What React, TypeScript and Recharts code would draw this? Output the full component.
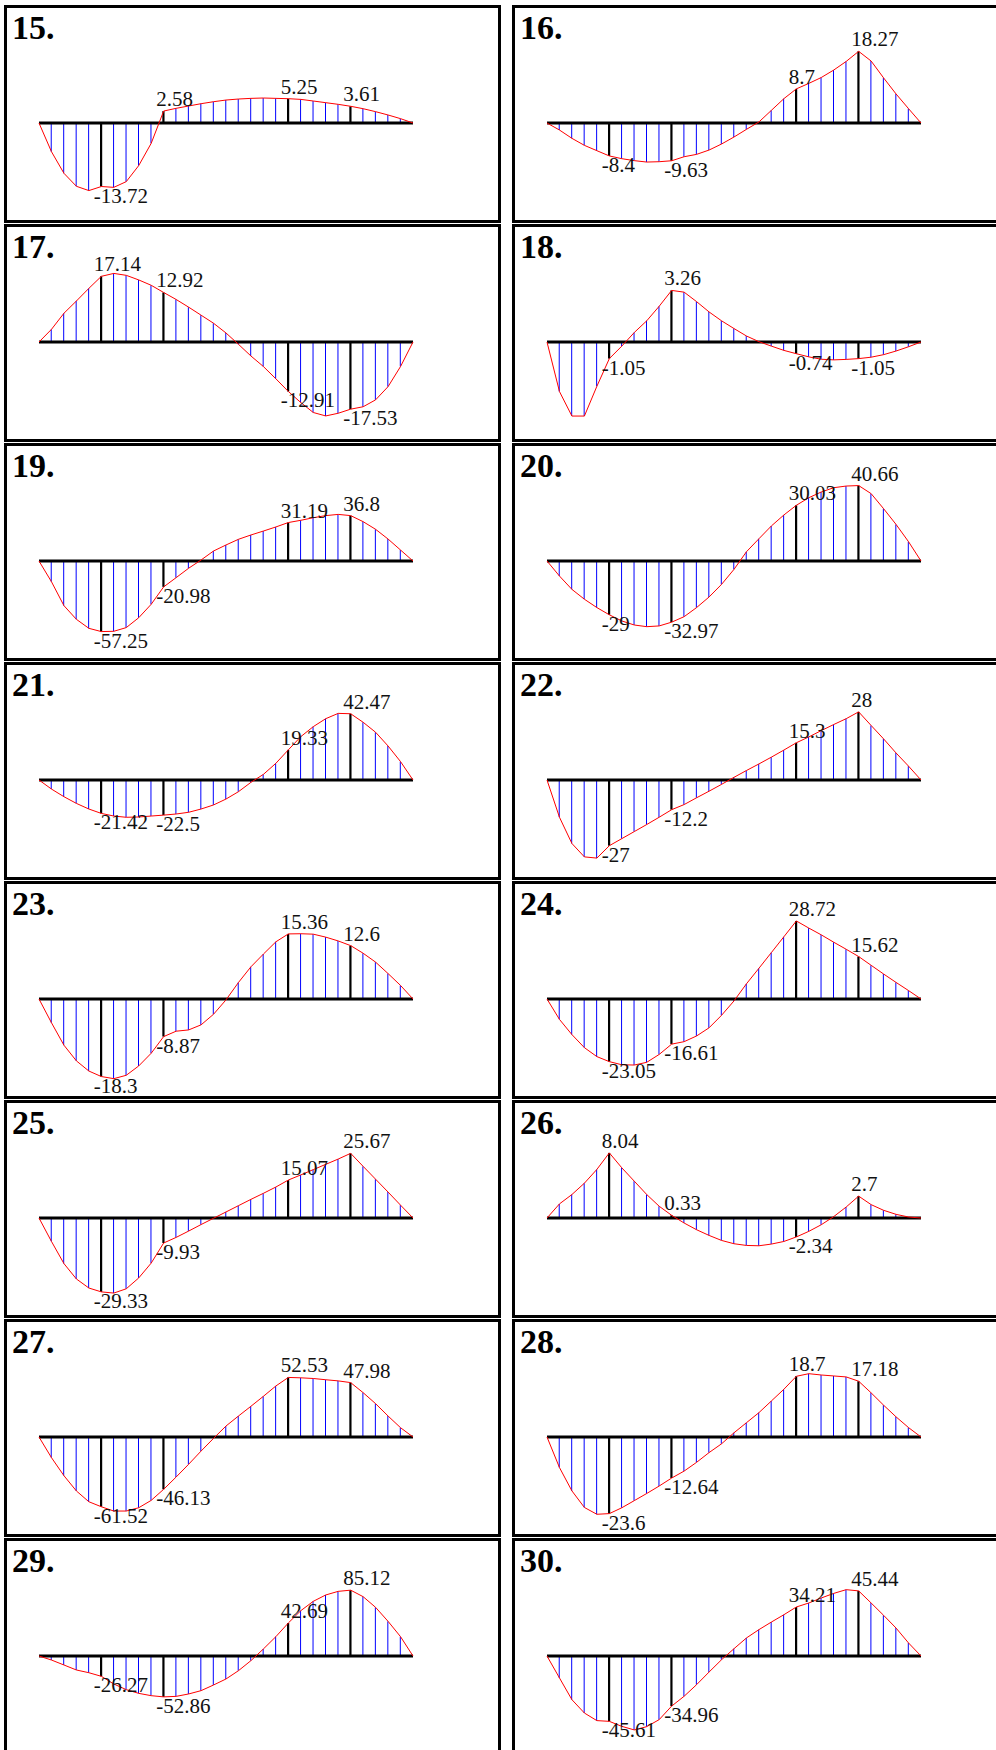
import React from 'react';
import {
  ComposedChart,
  Bar,
  Line,
  XAxis,
  YAxis,
  ReferenceLine,
  LabelList,
} from 'recharts';

// stations along the beam (every 0.2 of a span unit)
const STATIONS = [
  0, 0.2, 0.4, 0.6, 0.8, 1, 1.2, 1.4, 1.6, 1.8, 2, 2.2, 2.4, 2.6, 2.8, 3,
  3.2, 3.4, 3.6, 3.8, 4, 4.2, 4.4, 4.6, 4.8, 5, 5.2, 5.4, 5.6, 5.8, 6,
];

// stations that get a black ordinate and a value label
const MARKED = [1, 2, 4, 5];

const m15 = [0, -6.19, -10.86, -13.67, -14.6, -13.72, -13.9, -12.66, -9.2, -4.39, 2.58, 3.17, 3.67, 4.17, 4.6, 4.96, 5.18, 5.32, 5.4, 5.32, 5.25, 5.1, 4.75, 4.39, 4.03, 3.61, 3.09, 2.45, 1.73, 0.94, 0];
const m16 = [0, -1.79, -3.91, -5.7, -7.06, -8.4, -9.1, -9.6, -9.96, -9.87, -9.63, -8.6, -8.0, -6.9, -5.36, -3.57, -1.62, 0.26, 3.23, 6.2, 8.7, 10.1, 11.6, 13.5, 15.7, 18.27, 15.8, 11.5, 7.4, 3.66, 0];
const m17 = [0, 3.3, 7.5, 10.7, 14.0, 17.14, 17.9, 17.4, 16.2, 14.8, 12.92, 11.1, 9.1, 7.0, 4.9, 2.35, -0.6, -3.65, -6.4, -9.6, -12.91, -15.8, -18.4, -19.3, -18.6, -17.53, -16.9, -15.1, -11.65, -6.4, 0];
const m18 = [0, -3.13, -4.68, -4.68, -2.8, -1.05, -0.26, 0.6, 1.34, 2.26, 3.26, 3.15, 2.55, 1.9, 1.34, 0.85, 0.38, 0.02, -0.26, -0.53, -0.74, -0.94, -1.09, -1.13, -1.1, -1.05, -0.96, -0.8, -0.57, -0.3, 0];
const m19 = [0, -16.8, -36.2, -47.3, -54.6, -57.25, -57.0, -54.0, -46.0, -35.1, -20.98, -13.5, -5.9, 0.8, 8.1, 13.0, 17.6, 21.1, 24.3, 27.6, 31.19, 33.0, 35.1, 36.8, 37.8, 36.8, 31.9, 25.7, 17.8, 8.9, 0];
const m20 = [0, -8.1, -15.3, -20.6, -25.1, -29, -32.3, -34.5, -35.4, -35.0, -32.97, -30.0, -25.1, -19.4, -12.6, -4.5, 5.0, 12.0, 18.9, 24.8, 30.03, 34.1, 37.2, 39.5, 40.4, 40.66, 36.3, 28.2, 19.7, 10.4, 0];
const m21 = [0, -5.8, -10.7, -15.0, -18.6, -21.42, -23.1, -23.9, -23.7, -23.1, -22.5, -21.8, -20.7, -18.6, -16.0, -12.2, -7.5, -1.5, 3.6, 10.7, 19.33, 27.8, 34.2, 39.3, 42.7, 42.47, 37.0, 30.6, 21.8, 11.8, 0];
const m22 = [0, -15.3, -26.1, -31.6, -32.1, -27, -24.1, -21.2, -18.3, -15.3, -12.2, -10.1, -7.3, -4.6, -1.8, 1.1, 3.9, 6.6, 9.4, 12.3, 15.3, 17.7, 20.3, 22.8, 25.2, 28, 22.4, 16.9, 11.1, 5.7, 0];
const m23 = [0, -5.6, -10.9, -14.6, -17.0, -18.3, -18.8, -18.0, -15.8, -12.8, -8.87, -7.6, -7.3, -6.1, -3.6, -0.2, 3.9, 7.6, 10.6, 13.5, 15.36, 15.4, 15.3, 14.6, 13.7, 12.6, 10.8, 8.7, 6.0, 3.2, 0];
const m24 = [0, -7.5, -13.1, -17.9, -21.2, -23.05, -24.2, -24.3, -23.3, -20.4, -16.61, -15.7, -13.6, -10.6, -6.0, -0.7, 5.6, 11.3, 17.1, 22.9, 28.72, 26.1, 23.6, 20.9, 18.3, 15.62, 12.4, 9.2, 6.1, 3.1, 0];
const m25 = [0, -9.3, -18.1, -24.2, -27.8, -29.33, -29.8, -28.1, -23.8, -17.9, -9.93, -7.7, -5.2, -2.6, -0.1, 2.4, 4.9, 7.4, 9.8, 12.3, 15.07, 17.1, 19.2, 21.3, 23.4, 25.67, 20.5, 15.4, 10.3, 5.1, 0];
const m26 = [0, 1.74, 2.9, 4.3, 6.0, 8.04, 6.2, 4.55, 2.9, 1.45, 0.33, -0.62, -1.45, -2.15, -2.77, -3.18, -3.39, -3.43, -3.22, -2.9, -2.34, -1.65, -0.83, 0.17, 1.36, 2.7, 1.65, 0.95, 0.45, 0.12, 0];
const m27 = [0, -18.2, -34.1, -47.6, -57.1, -61.52, -65.3, -65.3, -62.4, -55.9, -46.13, -35.3, -24.1, -12.4, -1.2, 9.7, 18.5, 27.1, 35.9, 45.0, 52.53, 52.2, 51.6, 50.5, 49.5, 47.98, 39.1, 29.4, 18.5, 8.2, 0];
const m28 = [0, -9.4, -16.6, -21.7, -23.8, -23.6, -21.8, -19.6, -17.4, -15.1, -12.64, -10.5, -7.8, -4.8, -2.1, 1.3, 4.4, 7.5, 11.1, 14.7, 18.7, 19.5, 19.1, 18.8, 18.5, 17.18, 13.6, 9.8, 6.2, 2.9, 0];
const m29 = [0, -5.2, -11.6, -18.1, -21.6, -26.27, -36.2, -43.5, -48.3, -51.3, -52.86, -52.2, -49.1, -44.8, -37.5, -29.7, -19.0, -6.0, 9.1, 25.0, 42.69, 58.6, 70.7, 78.9, 83.6, 85.12, 76.7, 62.9, 44.8, 25.0, 0];
const m30 = [0, -15.3, -30.5, -39.8, -45.1, -45.61, -49.1, -51.6, -49.3, -44.4, -34.96, -28.1, -20.0, -11.2, -2.6, 5.1, 12.6, 18.4, 23.7, 28.8, 34.21, 37.0, 40.5, 43.7, 46.3, 45.44, 37.0, 28.4, 19.5, 9.1, 0];

// problem numbers, moment values and the half-range of each y axis
const NUMBERS = [15, 16, 17, 18, 19, 20, 21, 22, 23, 24, 25, 26, 27, 28, 29, 30];
const MOMENTS = [m15, m16, m17, m18, m19, m20, m21, m22, m23, m24, m25, m26, m27, m28, m29, m30];
const SPANS = [21.6, 25.5, 26.1, 6.32, 81.1, 53.9, 64.1, 41.1, 23.6, 36.8, 39.7, 12.35, 88.2, 30.8, 129.3, 69.8];

const SERIF = '"Liberation Serif", "Times New Roman", serif';

function Stick(props: any) {
  const { x, y, width, height, payload } = props;
  if (x == null || y == null || !height) return null;
  const cx = x + width / 2;
  const major = payload && payload.major;
  return (
    <line
      x1={cx}
      x2={cx}
      y1={y}
      y2={y + height}
      stroke={major ? '#000000' : '#0000ff'}
      strokeWidth={major ? 2.2 : 1}
    />
  );
}

function ValueLabel(props: any) {
  const { value } = props;
  if (value === null || value === undefined) return null;
  const vb = props.viewBox || {};
  const px = vb.x ?? props.x;
  const py = vb.y ?? props.y;
  if (px == null || py == null) return null;
  return (
    <text
      x={px - 7.5}
      y={value >= 0 ? py - 5 : py + 16}
      fontFamily={SERIF}
      fontSize={21}
      fill="#111"
    >
      {String(value)}
    </text>
  );
}

function Diagram({ no, values, span, index }: { no: number; values: number[]; span: number; index: number }) {
  const rows = STATIONS.map((x, i) => {
    const major = MARKED.includes(x);
    return { x, m: values[i], major, tag: major ? values[i] : undefined };
  });
  const row = Math.floor(index / 2);
  const col = index % 2;

  return (
    <div
      style={{
        position: 'absolute',
        left: col ? 512 : 4,
        top: 5 + row * 219,
        width: 497,
        height: 218,
        border: '3px solid #000',
        boxSizing: 'border-box',
        background: '#fff',
      }}
    >
      <div
        style={{
          position: 'absolute',
          left: 5,
          top: 3,
          fontFamily: SERIF,
          fontWeight: 'bold',
          fontSize: 34,
          lineHeight: '33px',
          color: '#000',
        }}
      >
        {no}.
      </div>
      <div style={{ position: 'absolute', left: -8, top: -5 }}>
        <ComposedChart
          width={454}
          height={240}
          data={rows}
          margin={{ top: 20, right: 40, bottom: 20, left: 40 }}
        >
          <XAxis dataKey="x" type="number" domain={[0, 6]} hide />
          <YAxis type="number" domain={[-span, span]} hide />
          <Bar dataKey="m" barSize={2} shape={Stick} isAnimationActive={false} />
          <ReferenceLine y={0} stroke="#000" strokeWidth={3} />
          <Line
            type="linear"
            dataKey="m"
            stroke="#ff0000"
            strokeWidth={1}
            dot={false}
            activeDot={false}
            isAnimationActive={false}
          >
            <LabelList dataKey="tag" content={ValueLabel} />
          </Line>
        </ComposedChart>
      </div>
    </div>
  );
}

export default function App() {
  return (
    <div
      style={{
        position: 'absolute',
        left: 0,
        top: 0,
        width: 996,
        height: 1750,
        overflow: 'hidden',
        background: '#fff',
      }}
    >
      {NUMBERS.map((no, i) => (
        <Diagram key={no} no={no} values={MOMENTS[i]} span={SPANS[i]} index={i} />
      ))}
    </div>
  );
}
